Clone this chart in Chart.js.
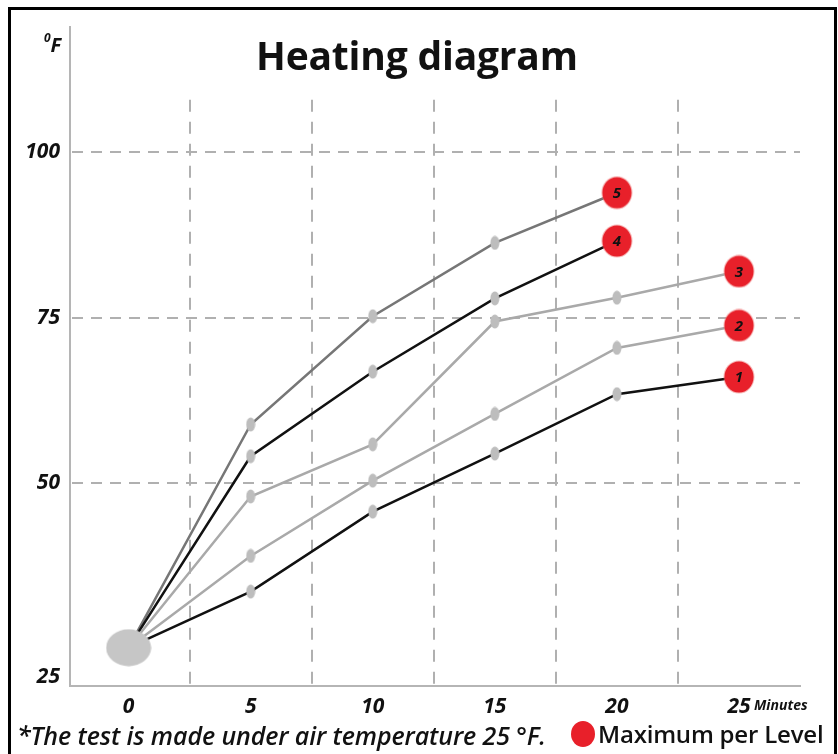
<!DOCTYPE html>
<html>
<head>
<meta charset="utf-8">
<title>Heating diagram</title>
<script src="https://cdn.jsdelivr.net/npm/chart.js@4"></script>
<style>
  body { margin: 0; background: #fff; }
  #wrap { position: relative; width: 838px; height: 754px; overflow: hidden; background: #fff; }
  #frame { position: absolute; left: 8px; top: 7px; width: 829px; height: 800px; border: 3px solid #000; box-sizing: border-box; }
  #chart { position: absolute; left: 0; top: 0; }
  .txt { position: absolute; white-space: nowrap; color: #111; line-height: 1.36; }
  #title { left: 256px; top: 28px; font: bold 39px "Open Sans", sans-serif; line-height: 1.36; letter-spacing: -0.2px; }
  #unit { left: 44px; top: 31px; font: italic bold 20px "Open Sans", sans-serif; line-height: 1.36; }
  #unit sup { font-size: 12px; position: relative; top: -2px; }
  #minutes { left: 754px; top: 695px; font: italic bold 14px "Open Sans", sans-serif; line-height: 1.36; }
  #note { left: 17px; top: 718px; font: italic 600 25px "Open Sans", sans-serif; line-height: 1.36; letter-spacing: -0.1px; }
  #legend { left: 571px; top: 718px; font: 600 24px "Open Sans", sans-serif; line-height: 1.36; letter-spacing: -0.2px; }
  #legend i { display: inline-block; width: 24px; height: 26px; border-radius: 50%; background: #e8202a; vertical-align: -4px; margin-right: 3px; }
</style>
</head>
<body>
<div id="wrap">
  <div id="frame"></div>
  <canvas id="chart" width="838" height="754"></canvas>
  <div class="txt" id="title">Heating diagram</div>
  <div class="txt" id="unit"><sup>0</sup>F</div>
  <div class="txt" id="minutes">Minutes</div>
  <div class="txt" id="note">*The test is made under air temperature 25 °F.</div>
  <div class="txt" id="legend"><i></i>Maximum per Level</div>
</div>
<script>
  // Dados
  const minutes = [0, 5, 10, 15, 20, 25];
  const airTemp = 25;
  const level1 = [25, 33.5, 45.6, 54.4, 63.4, 66.0];
  const level2 = [25, 38.9, 50.3, 60.4, 70.4, 73.8];
  const level3 = [25, 47.9, 55.8, 74.4, 78.0, 82.0];
  const level4 = [25, 54.0, 66.8, 77.9, 86.6];
  const level5 = [25, 58.8, 75.2, 86.3, 93.9];
  const levelNames = ['1', '2', '3', '4', '5'];
  const yTicks = [25, 50, 75, 100];
  const yGrid = [50, 75, 100];
  const xGrid = [2.5, 7.5, 12.5, 17.5, 22.5];

  const lineColors = ['#111111', '#a9a9a9', '#a9a9a9', '#111111', '#767676'];
  const red = '#e8202a';

  // Marcadores em forma de elipse
  function ellipseCanvas(w, h, color) {
    const c = document.createElement('canvas');
    c.width = w; c.height = h;
    const g = c.getContext('2d');
    g.fillStyle = color;
    g.beginPath();
    g.ellipse(w / 2, h / 2, w / 2 - 0.5, h / 2 - 0.5, 0, 0, Math.PI * 2);
    g.fill();
    return c;
  }
  const smallDot = ellipseCanvas(10, 15, '#bdbdbd');
  const endDot = (() => {
    const c = ellipseCanvas(32, 34, 'rgba(240,110,110,0.5)');
    const g = c.getContext('2d');
    g.fillStyle = red;
    g.beginPath();
    g.ellipse(16, 17, 14.5, 15.5, 0, 0, Math.PI * 2);
    g.fill();
    return c;
  })();
  const startBlob = ellipseCanvas(46, 38, '#c6c6c6');

  function toPoints(values) {
    return values.map((v, i) => ({ x: minutes[i], y: v }));
  }

  const levels = [level1, level2, level3, level4, level5];
  const datasets = levels.map((vals, k) => {
    const last = vals.length - 1;
    return {
      label: 'Level ' + levelNames[k],
      data: toPoints(vals),
      borderColor: lineColors[k],
      borderWidth: 2.5,
      tension: 0,
      order: 2,
      pointStyle: ctx => ctx.dataIndex === last ? endDot : smallDot,
      pointRadius: ctx => ctx.dataIndex === 0 ? 0 : (ctx.dataIndex === last ? 16 : 6),
      pointBackgroundColor: '#bdbdbd',
      pointBorderWidth: 0
    };
  });
  // Ponto inicial (temperatura do ar)
  datasets.push({
    label: 'start',
    data: [{ x: minutes[0], y: airTemp }],
    showLine: false,
    order: 0,
    pointStyle: startBlob,
    pointRadius: 20
  });

  // Grade tracejada
  const dashedGrid = {
    id: 'dashedGrid',
    beforeDatasetsDraw(chart) {
      const { ctx, chartArea, scales: { x, y } } = chart;
      ctx.save();
      ctx.strokeStyle = '#b0b0b0';
      ctx.lineWidth = 2;
      ctx.setLineDash([11, 8]);
      yGrid.forEach(v => {
        const py = Math.round(y.getPixelForValue(v));
        ctx.beginPath();
        ctx.moveTo(chartArea.left + 2, py);
        ctx.lineTo(chartArea.right, py);
        ctx.stroke();
      });
      ctx.setLineDash([12, 10]);
      xGrid.forEach(v => {
        const px = Math.round(x.getPixelForValue(v));
        ctx.beginPath();
        ctx.moveTo(px, y.getPixelForValue(108));
        ctx.lineTo(px, chartArea.bottom);
        ctx.stroke();
      });
      ctx.restore();
    }
  };

  // Numeros dentro dos marcadores vermelhos
  const levelLabels = {
    id: 'levelLabels',
    afterDatasetsDraw(chart) {
      const { ctx } = chart;
      ctx.save();
      ctx.fillStyle = '#111';
      ctx.font = 'italic bold 15px "Open Sans", sans-serif';
      ctx.textAlign = 'center';
      ctx.textBaseline = 'middle';
      levels.forEach((vals, k) => {
        const meta = chart.getDatasetMeta(k);
        const pt = meta.data[vals.length - 1];
        ctx.fillText(levelNames[k], pt.x, pt.y + 1);
      });
      ctx.restore();
    }
  };

  const tickFont = { family: '"Open Sans", sans-serif', size: 21, style: 'italic', weight: 'bold' };

  new Chart(document.getElementById('chart'), {
    type: 'line',
    data: { datasets },
    plugins: [dashedGrid, levelLabels],
    options: {
      responsive: false,
      animation: false,
      layout: { padding: { left: 10, right: 38, top: 27, bottom: 0 } },
      plugins: { legend: { display: false }, tooltip: { enabled: false }, title: { display: false } },
      scales: {
        x: {
          type: 'linear',
          min: -2.4,
          max: 27.5,
          grid: { display: false, drawTicks: false },
          border: { display: true, color: '#b5b5b5', width: 2 },
          afterBuildTicks: s => { s.ticks = minutes.map(v => ({ value: v })); },
          afterFit: s => { s.height = 68; },
          ticks: { color: '#111', font: tickFont, padding: 8 }
        },
        y: {
          min: 19.2,
          max: 119,
          grid: { display: false, drawTicks: false },
          border: { display: true, color: '#b5b5b5', width: 2 },
          // o rotulo "25" fica no pe do eixo, como no original
          afterBuildTicks: s => { s.ticks = yTicks.map(v => ({ value: v === airTemp ? s.min + 1.4 : v })); },
          afterFit: s => { s.width = 60; },
          ticks: { color: '#111', font: tickFont, padding: 10, callback: (v, i) => String(yTicks[i]) }
        }
      }
    }
  });
</script>
</body>
</html>
